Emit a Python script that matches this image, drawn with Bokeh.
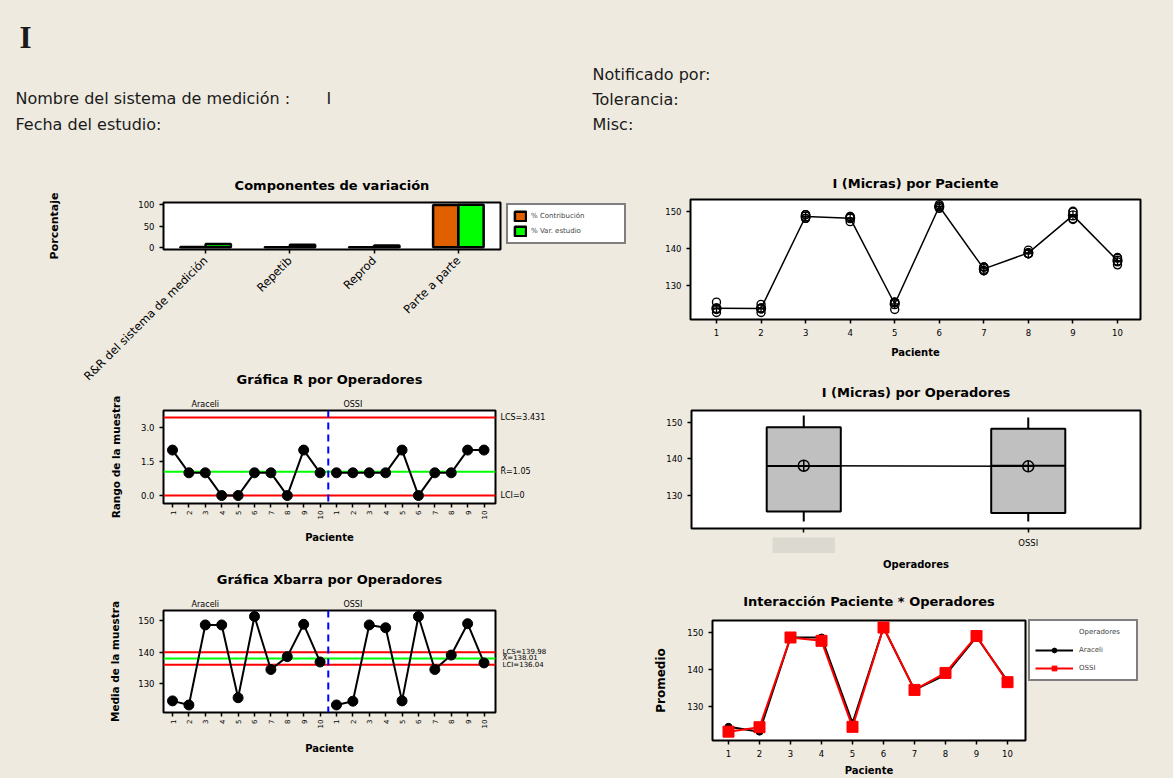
import numpy as np
from math import pi
from bokeh.plotting import figure
from bokeh.models import (Label, Legend, LegendItem, FixedTicker, Span, Range1d, Plot, Spacer,
                          PrintfTickFormatter, ColumnDataSource, LinearAxis)
from bokeh.layouts import column, row
from bokeh.embed import file_html
from bokeh.resources import INLINE
from bokeh.transform import dodge

BG = "#eeeae0"
FONT = "DejaVu Sans"
ORANGE = "#e06000"
GREEN = "#00ff00"

# ---- study data: two trials per operator and patient ----
patients = list(range(1, 11))
operators = ["Araceli", "OSSI"]
araceli_trial1 = [123.5, 122.7, 148.2, 148.7, 125.5, 150.9, 134.0, 138.6, 147.9, 136.4]
araceli_trial2 = [125.5, 123.7, 149.2, 148.7, 125.5, 151.9, 135.0, 138.6, 149.9, 137.4]
ossi_trial1 = [122.7, 123.9, 148.2, 147.3, 123.5, 151.4, 134.0, 138.6, 148.1, 135.6]
ossi_trial2 = [123.7, 124.9, 149.2, 148.3, 125.5, 151.4, 135.0, 139.6, 150.1, 137.6]

# ---- variance components (%) ----
components = ["R&R del sistema de medición", "Repetib", "Reprod", "Parte a parte"]
pct_contribution = [0.6, 0.4, 0.2, 99.4]
pct_study_var = [7.7, 6.4, 4.3, 99.7]

# ---- control limits ----
r_ucl, r_lcl = 3.431, 0.0
A2 = 1.880

a1, a2 = np.array(araceli_trial1), np.array(araceli_trial2)
o1, o2 = np.array(ossi_trial1), np.array(ossi_trial2)
range_a, range_o = np.abs(a1 - a2), np.abs(o1 - o2)
mean_a, mean_o = (a1 + a2) / 2, (o1 + o2) / 2
r_bar = float(np.mean(np.concatenate([range_a, range_o])))
x_dbar = float(np.mean(np.concatenate([mean_a, mean_o])))
x_ucl, x_lcl = x_dbar + A2 * r_bar, x_dbar - A2 * r_bar
pos_a = np.array(patients)
pos_o = np.array(patients) + len(patients)

FRAME_KW = {"frame_align": False} if "frame_align" in Plot.properties() else {}


def style_axis(ax, size="8.5px"):
    ax.axis_line_color = None
    ax.major_tick_line_color = "black"
    ax.major_tick_line_width = 1.5
    ax.major_tick_in = 0
    ax.major_tick_out = 4
    ax.minor_tick_line_color = None
    ax.major_label_text_font = FONT
    ax.major_label_text_font_size = size
    ax.major_label_text_color = "black"
    ax.axis_label_text_font = FONT
    ax.axis_label_text_font_style = "bold"
    ax.axis_label_text_font_size = "10px"
    ax.axis_label_text_color = "black"


def make_panel(ox, oy, w, h, frame, xr, yr, title, fill=BG, title_standoff=20):
    """Figure placed at page offset (ox, oy); frame given in page pixels."""
    fl, ft, fr, fb = frame
    p = figure(width=w, height=h, x_range=Range1d(*xr), y_range=Range1d(*yr), title=title,
               output_backend="svg", toolbar_location=None, tools="",
               min_border_left=fl - ox, min_border_right=ox + w - fr,
               min_border_top=ft - oy, min_border_bottom=oy + h - fb,
               background_fill_color="white", border_fill_color=fill,
               outline_line_color="black", outline_line_width=2, **FRAME_KW)
    p.title.align = "center"
    p.title.text_font = FONT
    p.title.text_font_size = "13px"
    p.title.text_font_style = "bold"
    p.title.text_color = "black"
    p.title.standoff = title_standoff
    p.grid.visible = False
    for ax in p.axis:
        style_axis(ax)
    return p


def text_axis(p, side, ticks, labels, size="8px", standoff=2):
    """Tick-less axis used to print labels next to the frame."""
    ax = LinearAxis(ticker=FixedTicker(ticks=ticks),
                    major_label_overrides=dict(zip(ticks, labels)))
    style_axis(ax, size)
    ax.major_tick_line_color = None
    ax.major_tick_out = 0
    ax.major_label_standoff = standoff
    p.add_layout(ax, side)
    return ax


def legend_box(w, h):
    """Small bare figure that holds a legend box; its swatch renderers sit under the box."""
    f = figure(width=w, height=h, x_range=Range1d(0, 1), y_range=Range1d(0, 1),
               x_axis_type=None, y_axis_type=None, output_backend="svg",
               toolbar_location=None, tools="", min_border=0, outline_line_color=None,
               background_fill_color=BG, border_fill_color=BG, **FRAME_KW)
    f.grid.visible = False
    return f


def legend_style(**kw):
    base = dict(location="top_left", margin=1, padding=5, label_text_font=FONT,
                label_text_font_size="7px", border_line_color="black", border_line_width=2,
                background_fill_color="white", background_fill_alpha=1)
    base.update(kw)
    return base


# ---------------- header ----------------
head = figure(width=1173, height=165, x_range=Range1d(0, 1173), y_range=Range1d(165, 0),
              x_axis_type=None, y_axis_type=None, output_backend="svg", toolbar_location=None,
              tools="", min_border=0, outline_line_color=None,
              background_fill_color=BG, border_fill_color=BG, **FRAME_KW)
head.grid.visible = False


def head_text(x, y, s, size=16, font=FONT, bold=False):
    head.add_layout(Label(x=x, y=y, text=s, text_font=font, text_font_size=f"{size}px",
                          text_font_style="bold" if bold else "normal",
                          text_align="left", text_baseline="middle", text_color="#1a1a1a"))


head_text(19, 37, "I", size=31, font="Liberation Serif", bold=True)
head_text(15, 98, "Nombre del sistema de medición :")
head_text(326, 98, "I")
head_text(15, 124, "Fecha del estudio:")
head_text(592, 74, "Notificado por:")
head_text(592, 99, "Tolerancia:")
head_text(592, 124, "Misc:")

# ---------------- components of variation ----------------
f1 = make_panel(0, 165, 505, 235, (163, 202, 500, 249), (0.5, 4.5), (-5, 105),
                "Componentes de variación", title_standoff=19)
comp_x = list(range(1, len(components) + 1))
src = ColumnDataSource(dict(x=comp_x, contrib=pct_contribution, study=pct_study_var))
bar_style_c = dict(fill_color=ORANGE, line_color="black", line_width=2.5)
bar_style_s = dict(fill_color=GREEN, line_color="black", line_width=2.5)
f1.vbar(x=dodge("x", -0.15), top="contrib", width=0.3, source=src, **bar_style_c)
f1.vbar(x=dodge("x", 0.15), top="study", width=0.3, source=src, **bar_style_s)
f1.xaxis.ticker = FixedTicker(ticks=comp_x)
f1.xaxis.major_label_overrides = {i: c for i, c in zip(comp_x, components)}
f1.xaxis.major_label_orientation = pi / 4
f1.xaxis.major_label_text_font_size = "11.5px"
f1.yaxis.ticker = FixedTicker(ticks=[0, 50, 100])
f1.yaxis.axis_label = "Porcentaje"
f1.yaxis.axis_label_text_font_size = "11px"
f1.yaxis.axis_label_standoff = 74

lg1 = legend_box(126, 42)
kc = lg1.vbar(x=[0.5], bottom=[0.45], top=[0.55], width=0.05, **bar_style_c)
ks = lg1.vbar(x=[0.5], bottom=[0.45], top=[0.55], width=0.05, **bar_style_s)
lg1.add_layout(Legend(items=[LegendItem(label="% Contribución", renderers=[kc]),
                             LegendItem(label="% Var. estudio", renderers=[ks])],
                      **legend_style(spacing=3, glyph_width=14, glyph_height=12,
                                     label_width=88, label_standoff=4)))
top_row = row(f1, column(Spacer(width=135, height=37), lg1, spacing=0), spacing=0)

# ---------------- R chart ----------------
fr_ = make_panel(0, 360, 640, 200, (163, 408, 495, 503), (0.45, 20.7), (-0.35, 3.74),
                 "Gráfica R por Operadores", fill=None, title_standoff=19)
fr_.margin = (-40, 0, 0, 0)
for xs, rs in [(pos_a, range_a), (pos_o, range_o)]:
    fr_.line(xs, rs, line_color="black", line_width=2)
    fr_.scatter(xs, rs, size=10, marker="circle", fill_color="black", line_color="black")
for v, c in [(r_ucl, "red"), (r_bar, GREEN), (r_lcl, "red")]:
    fr_.add_layout(Span(location=v, dimension="width", line_color=c, line_width=2, level="underlay"))
fr_.add_layout(Span(location=len(patients) + 0.5, dimension="height", line_color="blue",
                    line_width=2, line_dash="7 5"))
fr_.yaxis.ticker = FixedTicker(ticks=[0, 1.5, 3.0])
fr_.yaxis.formatter = PrintfTickFormatter(format="%.1f")
fr_.yaxis.axis_label = "Rango de la muestra"
fr_.yaxis.axis_label_text_font_size = "10.5px"
fr_.yaxis.axis_label_standoff = 16
text_axis(fr_, "right", [r_ucl, r_bar, r_lcl],
          [f"LCS={r_ucl:.3f}", f"R\u0304={r_bar:.2f}", f"LCI={r_lcl:g}"], standoff=5)

# ---------------- Xbar chart ----------------
fx = make_panel(0, 560, 640, 218, (163, 610, 495, 712), (0.45, 20.7), (120.8, 153.3),
                "Gráfica Xbarra por Operadores", title_standoff=19)
for xs, ms in [(pos_a, mean_a), (pos_o, mean_o)]:
    fx.line(xs, ms, line_color="black", line_width=2)
    fx.scatter(xs, ms, size=10, marker="circle", fill_color="black", line_color="black")
for v, c in [(x_ucl, "red"), (x_dbar, GREEN), (x_lcl, "red")]:
    fx.add_layout(Span(location=v, dimension="width", line_color=c, line_width=2, level="underlay"))
fx.add_layout(Span(location=len(patients) + 0.5, dimension="height", line_color="blue",
                   line_width=2, line_dash="7 5"))
fx.yaxis.ticker = FixedTicker(ticks=[130, 140, 150])
fx.yaxis.axis_label = "Media de la muestra"
fx.yaxis.axis_label_text_font_size = "10.5px"
fx.yaxis.axis_label_standoff = 14
text_axis(fx, "right", [x_ucl, x_dbar, x_lcl],
          [f"LCS={x_ucl:.2f}", f"X\u033f={x_dbar:.2f}", f"LCI={x_lcl:.2f}"], size="7px", standoff=7)

for p, sd in ((fr_, 10), (fx, 12)):
    p.xaxis[0].ticker = FixedTicker(ticks=list(range(1, 21)))
    p.xaxis[0].major_label_overrides = {i: str((i - 1) % 10 + 1) for i in range(1, 21)}
    p.xaxis[0].major_label_orientation = pi / 2
    p.xaxis[0].major_label_text_font_size = "7px"
    p.xaxis[0].major_label_standoff = 3
    p.xaxis[0].axis_label = "Paciente"
    p.xaxis[0].axis_label_standoff = sd
    text_axis(p, "above", [3, 12], operators, standoff=2)

# ---------------- values by patient ----------------
p1 = make_panel(640, 165, 533, 200, (690, 199, 1140, 319), (0.417, 10.516), (120.8, 153.3),
                "I (Micras) por Paciente", title_standoff=17)
all_x = np.concatenate([pos_a, pos_a, pos_a, pos_a])
all_y = np.concatenate([a1, a2, o1, o2])
patient_mean = (a1 + a2 + o1 + o2) / 4
p1.line(patients, patient_mean, line_color="black", line_width=1.5)
p1.scatter(all_x, all_y, marker="circle", size=8, fill_color=None, line_color="black", line_width=1.4)
p1.scatter(patients, patient_mean, marker="circle_cross", size=9, fill_color=None,
           line_color="black", line_width=1.3)
p1.xaxis.ticker = FixedTicker(ticks=patients)
p1.xaxis.axis_label = "Paciente"
p1.xaxis.axis_label_standoff = 8
p1.yaxis.ticker = FixedTicker(ticks=[130, 140, 150])

# ---------------- values by operator (boxplot) ----------------
p2 = make_panel(640, 365, 533, 215, (691, 410, 1140, 528), (0.5, 2.5), (120.8, 153.3),
                "I (Micras) por Operadores", title_standoff=21)
op_pos = [1, 2]
op_values = [np.concatenate([a1, a2]), np.concatenate([o1, o2])]
q1 = [np.percentile(v, 25, method="weibull") for v in op_values]
q2 = [np.percentile(v, 50, method="weibull") for v in op_values]
q3 = [np.percentile(v, 75, method="weibull") for v in op_values]
vmin = [v.min() for v in op_values]
vmax = [v.max() for v in op_values]
vmean = [v.mean() for v in op_values]
bw = 0.33
p2.segment(x0=op_pos, x1=op_pos, y0=q3, y1=vmax, line_color="black", line_width=2)
p2.segment(x0=op_pos, x1=op_pos, y0=q1, y1=vmin, line_color="black", line_width=2)
p2.vbar(x=op_pos, width=bw, top=q3, bottom=q1, fill_color="#c0c0c0", line_color="black", line_width=2)
p2.segment(x0=[x - bw / 2 for x in op_pos], x1=[x + bw / 2 for x in op_pos], y0=q2, y1=q2,
           line_color="black", line_width=2)
p2.line(op_pos, vmean, line_color="black", line_width=1.5)
p2.scatter(op_pos, vmean, marker="circle_cross", size=11, fill_color=None, line_color="black",
           line_width=1.5)
p2.xaxis.ticker = FixedTicker(ticks=op_pos)
p2.xaxis.major_label_overrides = {1: "", 2: operators[1]}
p2.xaxis.axis_label = "Operadores"
p2.xaxis.axis_label_standoff = 8
p2.yaxis.ticker = FixedTicker(ticks=[130, 140, 150])

# soft grey patch over the first operator's tick label
blob = figure(width=63, height=16, x_axis_type=None, y_axis_type=None, output_backend="svg",
              toolbar_location=None, tools="", min_border=0, outline_line_color=None,
              background_fill_color="#dcd9d0", border_fill_color="#dcd9d0", **FRAME_KW)
blob.grid.visible = False
blob.margin = (-43, 0, 0, 132)

# ---------------- interaction ----------------
p3 = make_panel(640, 580, 387, 198, (712, 620, 1025, 740), (0.484, 10.58), (120.8, 153.3),
                "Interacción Paciente * Operadores", title_standoff=23)
line_a = dict(line_color="black", line_width=2)
mark_a = dict(marker="circle", size=7, fill_color="black", line_color="black")
line_o = dict(line_color="red", line_width=2)
mark_o = dict(marker="square", size=11, fill_color="red", line_color="red")
p3.line(patients, mean_a, **line_a)
p3.scatter(patients, mean_a, **mark_a)
p3.line(patients, mean_o, **line_o)
p3.scatter(patients, mean_o, **mark_o)
p3.xaxis.ticker = FixedTicker(ticks=patients)
p3.xaxis.axis_label = "Paciente"
p3.xaxis.axis_label_standoff = 5
p3.yaxis.ticker = FixedTicker(ticks=[130, 140, 150])
p3.yaxis.axis_label = "Promedio"
p3.yaxis.axis_label_text_font_size = "12px"
p3.yaxis.axis_label_standoff = 16

lg3 = legend_box(112, 64)
k0 = lg3.line(x=[0.45, 0.55], y=[0.5, 0.5], line_alpha=0)
k1 = [lg3.line(x=[0.45, 0.55], y=[0.5, 0.5], **line_a), lg3.scatter(x=[0.5], y=[0.5], **mark_a)]
k2 = [lg3.line(x=[0.45, 0.55], y=[0.5, 0.5], **line_o), lg3.scatter(x=[0.5], y=[0.5], **mark_o)]
lg3.add_layout(Legend(items=[LegendItem(label="Operadores", renderers=[k0]),
                             LegendItem(label=operators[0], renderers=k1),
                             LegendItem(label=operators[1], renderers=k2)],
                      **legend_style(spacing=6, glyph_width=38, glyph_height=12,
                                     label_width=52, label_standoff=6)))
bottom_row = row(p3, column(Spacer(width=146, height=38), lg3, spacing=0), spacing=0)
bottom_row.margin = (27, 0, 0, 0)

left = column(top_row, fr_, fx, spacing=0)
right = column(p1, p2, blob, bottom_row, spacing=0)
root = column(head, row(left, right, spacing=0), spacing=0,
              styles={"background-color": BG})

html = file_html(root, INLINE, title="I")
html = html.replace("<body>", f'<body style="margin:0;background:{BG};">', 1)
open("out.html", "w").write(html)
